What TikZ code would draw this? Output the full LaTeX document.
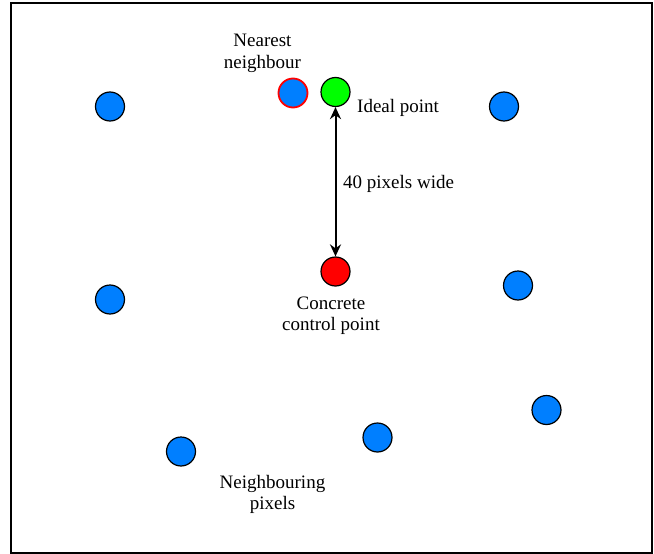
\documentclass[tikz,border=0pt]{standalone}
\usepackage{fontspec}
\setmainfont{Liberation Serif}
\usetikzlibrary{arrows.meta}
\definecolor{pixblue}{RGB}{0,127,255}
\definecolor{idealgreen}{RGB}{0,255,0}
\definecolor{ctrlred}{RGB}{255,0,0}
\begin{document}
\begin{tikzpicture}[x=1pt,y=-1pt,
  dot/.style={circle,draw=black,line width=1.2pt,minimum size=29pt,inner sep=0pt},
  lbl/.style={font=\fontsize{19}{21.5}\selectfont,inner sep=0pt,align=center,anchor=base}]
\useasboundingbox (0,0) rectangle (654,554);
\draw[line width=2pt] (11,3) rectangle (652,553);
% pixels
\node[dot,fill=pixblue] (p1) at (110,106.5) {};
\node[dot,fill=pixblue] (p2) at (504,106.5) {};
\node[dot,fill=pixblue] (p3) at (110,299.5) {};
\node[dot,fill=pixblue] (p4) at (518,285.5) {};
\node[dot,fill=pixblue] (p5) at (546.5,410) {};
\node[dot,fill=pixblue] (p6) at (377.5,437.5) {};
\node[dot,fill=pixblue] (p7) at (181,451.5) {};
\node[dot,fill=pixblue,draw=ctrlred,line width=1.8pt] (nn) at (293,93) {};
\node[dot,fill=idealgreen] (ideal) at (335.5,92) {};
\node[dot,fill=ctrlred] (ctrl) at (335.5,271.5) {};
% arrow
\draw[line width=2pt,{Stealth[length=12pt,width=11pt]}-{Stealth[length=12pt,width=11pt]}] (ideal.south) -- (ctrl.north);
% labels
\node[lbl] (tnn) at (262.5,68) {Nearest\\neighbour};
\node[lbl,anchor=base west] (tideal) at (357,112.5) {Ideal point};
\node[lbl,anchor=base west] (twide) at (343,188) {40 pixels wide};
\node[lbl] (tctrl) at (331,330.5) {Concrete\\control point};
\node[lbl] (tnb) at (272.5,509.5) {Neighbouring\\pixels};
\end{tikzpicture}
\end{document}
